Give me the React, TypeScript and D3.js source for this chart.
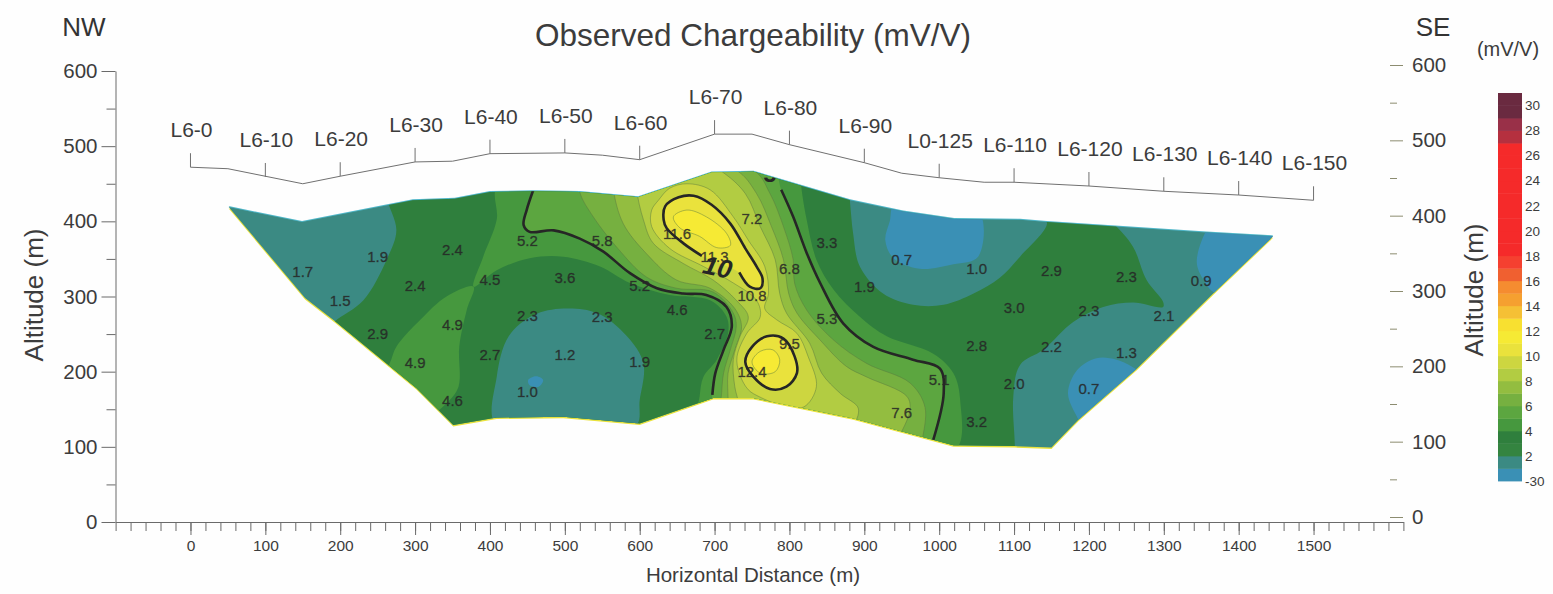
import React, { useEffect, useRef } from 'react'
import * as d3 from 'd3'

type Pt = [number, number]

// all shapes below are [distance m, altitude m]
const distMajor = [0, 100, 200, 300, 400, 500, 600, 700, 800, 900, 1000, 1100, 1200, 1300, 1400, 1500]
const altMajor = [0, 100, 200, 300, 400, 500, 600]
const altMinor = [50, 150, 250, 350, 450, 550]
const legendTicks = [-30, 2, 4, 6, 8, 10, 12, 14, 16, 18, 20, 22, 24, 26, 28, 30]

const stationNames = ['L6-0', 'L6-10', 'L6-20', 'L6-30', 'L6-40', 'L6-50', 'L6-60', 'L6-70', 'L6-80', 'L6-90', 'L0-125', 'L6-110', 'L6-120', 'L6-130', 'L6-140', 'L6-150']
const stationDist = distMajor
const stationAlt = [472, 459, 460, 479, 490, 491, 482, 516, 502, 478, 458, 452, 447, 440, 435, 428]

const topography: Pt[] = [[0, 472], [50, 470], [150, 450], [200, 460], [300, 479], [350, 480], [400, 490], [500, 491], [550, 488], [600, 482], [700, 516], [750, 516], [800, 502], [900, 478], [950, 464], [1000, 458], [1060, 452], [1100, 452], [1200, 447], [1300, 440], [1400, 435], [1500, 428]]

const sectionOutline: Pt[] = [[51, 419], [149, 399], [297, 428], [353, 430], [400, 439], [457, 440], [520, 439], [598, 432], [696, 465], [752, 466], [881, 428], [952, 413], [1020, 403], [1108, 402], [1144, 399], [1357, 385], [1446, 380], [1366, 304], [1264, 204], [1186, 136], [1150, 99], [1101, 101], [1019, 102], [885, 138], [752, 165], [698, 165], [600, 131], [498, 140], [409, 139], [351, 129], [302, 178], [193, 267], [153, 298]]

// bands of the colour bar, bottom to top
const bandLower = [-30, 1, 2, 3, 4, 5, 6, 7, 8, 9, 10, 11, 12, 13, 14, 15, 16, 17, 18, 19, 20, 21, 22, 23, 24, 25, 26, 27, 28, 29, 30]
const bandColors = ['#3a90b5', '#3b8a83', '#348440', '#2f7f3d', '#46983e', '#5ca640', '#76b040', '#93bd40', '#b2cc42', '#cdd640', '#eae23c', '#f6ea34', '#f8e030', '#f5c035', '#f5a030', '#f58c30', '#f06030', '#f54030', '#f52a2a', '#f52a2a', '#f52a2a', '#f52a2a', '#f52a2a', '#f52a2a', '#f52a2a', '#f52a2a', '#f52a2a', '#b5303f', '#993048', '#6a2a40', '#6a2a40']

// filled contours, painted low to high
const dark3: Pt[] = [[262, 433], [275, 388], [262, 349], [231, 295], [193, 267], [182, 255], [230, 120], [600, 90], [1101, 60], [1101, 102], [1099, 167], [1108, 209], [1139, 229], [1179, 266], [1219, 286], [1259, 292], [1299, 286], [1299, 293], [1277, 322], [1259, 366], [1235, 395], [1224, 406], [1135, 411], [1144, 397], [1108, 353], [1081, 325], [1046, 304], [1006, 289], [965, 289], [925, 304], [894, 340], [885, 384], [881, 424], [876, 470], [600, 500], [262, 470]]
const tealMiddle: Pt[] = [[409, 127], [409, 193], [425, 247], [458, 275], [498, 284], [543, 278], [583, 247], [605, 211], [600, 162], [594, 127]]
const blueTop: Pt[] = [[941, 424], [1052, 415], [1052, 353], [1019, 343], [974, 337], [939, 351], [928, 375], [934, 400]]
const blueSpot: Pt[] = [[451, 189], [462, 194], [471, 189], [465, 180], [453, 182]]
const blueRight: Pt[] = [[1357, 388], [1344, 346], [1353, 322], [1366, 306], [1384, 300], [1464, 393], [1366, 397]]
const blueLower: Pt[] = [[1186, 136], [1172, 171], [1184, 202], [1210, 218], [1237, 216], [1262, 204], [1273, 193], [1193, 122]]
const mid4Main: Pt[] = [[411, 450], [409, 402], [391, 353], [378, 313], [409, 335], [453, 351], [498, 353], [547, 340], [587, 318], [640, 302], [694, 295], [716, 273], [718, 251], [703, 216], [685, 193], [680, 167], [678, 145], [700, 130], [850, 110], [1021, 95], [1028, 162], [1019, 198], [992, 224], [930, 247], [894, 273], [859, 309], [836, 349], [823, 402], [816, 444], [814, 470], [600, 500]]
const mid4Left: Pt[] = [[378, 313], [342, 300], [307, 269], [275, 233], [266, 211], [253, 193], [300, 150], [324, 145], [342, 158], [358, 180], [359, 233], [369, 282]]

const thick5Left: Pt[] = [[458, 442], [449, 415], [445, 395], [453, 386], [485, 388], [520, 377], [551, 360], [587, 331], [623, 311], [658, 304], [689, 302], [716, 286], [723, 260], [712, 229], [701, 198], [697, 169]]
const thick5Right: Pt[] = [[789, 442], [805, 406], [823, 358], [841, 318], [872, 264], [912, 233], [965, 216], [1001, 204], [1006, 171], [992, 109]]
const level5Top: Pt[] = [[458, 470], [620, 520], [775, 480]]
const level5Bottom: Pt[] = [[992, 90], [850, 100], [697, 140]]

const level6: Pt[] = [[520, 439], [538, 406], [569, 366], [609, 326], [649, 311], [698, 306], [725, 278], [729, 260], [721, 229], [712, 198], [709, 167], [707, 149], [974, 91], [977, 107], [981, 153], [961, 185], [903, 211], [859, 242], [823, 282], [807, 317], [805, 349], [792, 393], [774, 437], [752, 468], [600, 500], [520, 470]]
const level7: Pt[] = [[565, 442], [578, 397], [609, 357], [649, 322], [694, 311], [727, 284], [736, 260], [727, 229], [718, 198], [718, 165], [718, 145], [939, 96], [948, 116], [961, 149], [957, 167], [903, 193], [876, 207], [841, 242], [810, 278], [799, 304], [792, 349], [776, 393], [756, 437], [729, 468], [640, 490], [565, 470]]
const level8: Pt[] = [[596, 442], [605, 402], [618, 371], [658, 344], [698, 322], [729, 295], [745, 273], [734, 247], [725, 216], [727, 180], [732, 158], [732, 140], [881, 127], [892, 151], [868, 171], [843, 198], [827, 238], [796, 278], [787, 304], [781, 349], [761, 393], [741, 437], [707, 468], [640, 500], [596, 470]]
const level9: Pt[] = [[625, 428], [640, 444], [663, 450], [694, 442], [725, 406], [745, 375], [767, 340], [772, 304], [767, 284], [783, 269], [810, 251], [825, 220], [836, 180], [819, 153], [787, 156], [761, 166], [745, 176], [733, 198], [730, 220], [743, 251], [761, 273], [756, 295], [725, 318], [685, 340], [640, 364], [616, 393], [616, 415]]
const thick10Upper: Pt[] = [[683, 354], [658, 371], [636, 391], [632, 402], [634, 420], [652, 432], [672, 434], [696, 422], [721, 397], [741, 364], [756, 340], [764, 324], [761, 311], [747, 313], [733, 332]]
const thick10Lower: Pt[] = [[741, 213], [750, 233], [770, 247], [792, 244], [807, 220], [810, 198], [796, 180], [774, 177], [752, 193]]
const level11Upper: Pt[] = [[645, 406], [663, 415], [689, 406], [716, 384], [721, 368], [703, 365], [680, 380], [654, 391]]
const level11Lower: Pt[] = [[750, 213], [761, 227], [778, 229], [787, 216], [781, 200], [761, 198]]

// measured value labels
const valueText = ['1.7', '1.9', '2.4', '1.5', '2.4', '2.9', '4.9', '4.5', '5.2', '5.8', '3.6', '5.2', '2.3', '2.3', '4.6', '4.9', '2.7', '1.2', '1.9', '4.6', '1.0', '11.6', '7.2', '11.3', '6.8', '3.3', '10.8', '1.9', '0.7', '1.0', '5.3', '2.7', '9.5', '12.4', '5.1', '7.6', '2.8', '3.2', '3.0', '2.9', '2.3', '0.9', '2.3', '2.1', '2.2', '1.3', '2.0', '0.7']
const valueDist = [150, 250, 350, 200, 300, 250, 350, 400, 450, 550, 500, 600, 450, 550, 650, 300, 400, 500, 600, 350, 450, 650, 750, 700, 800, 850, 750, 900, 950, 1050, 850, 700, 800, 750, 1000, 950, 1050, 1050, 1100, 1150, 1250, 1350, 1200, 1300, 1150, 1250, 1100, 1200]
const valueAlt = [333, 353, 363, 294, 314, 250, 262, 323, 375, 374, 325, 315, 274, 273, 282, 212, 223, 223, 214, 161, 173, 384, 403, 353, 337, 372, 301, 313, 349, 337, 271, 250, 237, 200, 189, 146, 235, 133, 285, 334, 327, 321, 281, 274, 233, 226, 184, 178]

const W = 1553
const H = 594
const FONT = '"Liberation Sans", Arial, sans-serif'

const x = d3.scaleLinear().domain([-100, 1620]).range([115.6, 1403.4])
const y = d3.scaleLinear().domain([0, 600]).range([522, 71])
// the scan is a little skewed, right axis sits higher
const yRight = d3.scaleLinear().domain([0, 600]).range([517, 65])
const fillFor = d3.scaleThreshold<number, string>().domain(bandLower.slice(1)).range(bandColors)
const legendY = d3.scaleLinear().domain([0, 31]).range([481, 93])
const plain = d3.format('d')

const closed = d3.line<Pt>().x(d => x(d[0])).y(d => y(d[1])).curve(d3.curveCatmullRomClosed.alpha(0.5))
const open = d3.line<Pt>().x(d => x(d[0])).y(d => y(d[1])).curve(d3.curveCatmullRom.alpha(0.5))
const straight = d3.line<Pt>().x(d => x(d[0])).y(d => y(d[1]))

const level5: Pt[] = [...level5Top, ...thick5Right, ...level5Bottom, ...thick5Left.slice().reverse()]

const regions: { value: number; pts: Pt[]; edge?: boolean }[] = [
  { value: 3.5, pts: dark3 },
  { value: 1.5, pts: tealMiddle },
  { value: 0.5, pts: blueTop },
  { value: 0.5, pts: blueSpot },
  { value: 0.5, pts: blueRight },
  { value: 0.5, pts: blueLower },
  { value: 4.5, pts: mid4Main },
  { value: 4.5, pts: mid4Left },
  { value: 5.5, pts: level5 },
  { value: 6.5, pts: level6, edge: true },
  { value: 7.5, pts: level7, edge: true },
  { value: 8.5, pts: level8, edge: true },
  { value: 9.5, pts: level9, edge: true },
  { value: 10.5, pts: thick10Upper },
  { value: 10.5, pts: thick10Lower },
  { value: 11.5, pts: level11Upper, edge: true },
  { value: 11.5, pts: level11Lower, edge: true },
]

const App = () => {
  const axesRef = useRef<SVGGElement>(null)

  useEffect(() => {
    const g = d3.select(axesRef.current)
    g.selectAll('*').remove()

    g.append('g').attr('transform', 'translate(115.5,0)')
      .call(d3.axisLeft(y).tickValues(altMajor).tickSize(14).tickPadding(4).tickSizeOuter(0).tickFormat(plain))
    g.append('g').attr('transform', 'translate(115.5,0)')
      .call(d3.axisLeft(y).tickValues(altMinor).tickSize(9).tickFormat(() => '').tickSizeOuter(0))
      .call(s => s.select('.domain').remove())

    g.append('g').attr('transform', 'translate(0,522)')
      .call(d3.axisBottom(x).tickValues(d3.range(-100, 1621, 20)).tickSize(9).tickFormat(() => '').tickSizeOuter(0))
    g.append('g').attr('transform', 'translate(0,522)')
      .call(d3.axisBottom(x).tickValues(distMajor).tickSize(13).tickPadding(5).tickSizeOuter(0).tickFormat(plain))
      .call(s => s.select('.domain').remove())
      .call(s => s.selectAll('text').attr('font-size', 15.5))

    g.append('g').attr('transform', 'translate(1390,0)')
      .call(d3.axisRight(yRight).tickValues(altMajor).tickSize(13).tickPadding(9).tickFormat(plain))
      .call(s => s.select('.domain').remove())
      .call(s => s.selectAll('line').attr('stroke', '#8c8c70'))
    g.append('g').attr('transform', 'translate(1390,0)')
      .call(d3.axisRight(yRight).tickValues(altMinor).tickSize(7).tickFormat(() => ''))
      .call(s => s.select('.domain').remove())
      .call(s => s.selectAll('line').attr('stroke', '#8c8c70'))

    g.selectAll('text').attr('font-family', FONT).attr('fill', '#3c3c3c')
    g.selectAll('g > g > text').filter(function () { return !d3.select(this).attr('font-size') }).attr('font-size', 20.5)
    g.selectAll('.domain').attr('stroke', '#6a6a6a')
    g.selectAll('.tick line').filter(function () { return !d3.select(this).attr('stroke') || d3.select(this).attr('stroke') === 'currentColor' }).attr('stroke', '#6a6a6a')
  }, [])

  return (
    <svg width={W} height={H} style={{ position: 'absolute', left: 0, top: 0, display: 'block', background: '#fefefe' }} fontFamily={FONT}>
      <defs>
        <clipPath id="section">
          <path d={straight(sectionOutline) + 'Z'} />
        </clipPath>
      </defs>

      <g ref={axesRef} />

      {/* print misregistration along the section edges */}
      <path d={straight(sectionOutline) + 'Z'} fill="#e9e23c" transform="translate(0,1.5)" />
      <path d={straight(sectionOutline) + 'Z'} fill="#4fb6c8" transform="translate(0,-1)" />
      <path d={straight(sectionOutline) + 'Z'} fill={fillFor(1.5)} />

      <g clipPath="url(#section)">
        {regions.map((r, i) => (
          <path key={i} d={closed(r.pts) ?? ''} fill={fillFor(r.value)}
            stroke={r.edge ? '#5a7a40' : 'none'} strokeOpacity={0.6} strokeWidth={0.8} />
        ))}
        {[thick5Left, thick5Right, thick10Upper].map((p, i) => (
          <path key={i} d={open(p) ?? ''} fill="none" stroke="#262626" strokeWidth={2.6} />
        ))}
        <path d={closed(thick10Lower) ?? ''} fill="none" stroke="#262626" strokeWidth={2.6} />
        <text x={x(774)} y={y(464)} dy="0.35em" textAnchor="middle" fontSize={24} fontWeight="bold" fill="#262626">5</text>
      </g>

      <text transform={`translate(${x(704)},${y(339)}) rotate(12)`} dy="0.35em" textAnchor="middle" fontSize={26} fontStyle="italic" fontWeight="bold" fill="#262626">10</text>

      {valueText.map((t, i) => (
        <text key={i} x={x(valueDist[i])} y={y(valueAlt[i])} dy="0.36em" textAnchor="middle" fontSize={15} fill="#262626" fillOpacity={0.85} stroke="#262626" strokeWidth={0.45} strokeOpacity={0.6}>{t}</text>
      ))}

      {/* topography with the stations */}
      <path d={straight(topography) ?? ''} fill="none" stroke="#707070" strokeWidth={1} />
      {stationNames.map((name, i) => (
        <g key={name}>
          <line x1={x(stationDist[i])} x2={x(stationDist[i])} y1={y(stationAlt[i])} y2={y(stationAlt[i]) - 14} stroke="#707070" />
          <text x={x(stationDist[i]) + 1} y={y(stationAlt[i]) - 30} textAnchor="middle" fontSize={21} fill="#3c3c3c">{name}</text>
        </g>
      ))}

      <text x={753} y={46} textAnchor="middle" fontSize={31.5} fill="#3c3c3c">Observed Chargeability (mV/V)</text>
      <text x={84} y={36} textAnchor="middle" fontSize={26} fill="#333">NW</text>
      <text x={1433} y={36} textAnchor="middle" fontSize={26} fill="#333">SE</text>
      <text x={753} y={582} textAnchor="middle" fontSize={20.5} fill="#3c3c3c">Horizontal Distance (m)</text>
      <text transform="translate(43,295) rotate(-90)" textAnchor="middle" fontSize={26} fill="#3c3c3c">Altitude (m)</text>
      <text transform="translate(1483,290) rotate(-90)" textAnchor="middle" fontSize={26} fill="#3c3c3c">Altitude (m)</text>

      {/* colour bar */}
      <text x={1508} y={56} textAnchor="middle" fontSize={20} fill="#3c3c3c">(mV/V)</text>
      {bandColors.map((c, i) => (
        <rect key={i} x={1498} width={24} y={legendY(i + 1)} height={legendY(i) - legendY(i + 1) + 0.4} fill={c} />
      ))}
      {legendTicks.map(t => (
        <text key={t} x={1525} y={t < 0 ? legendY(0) : legendY(t)} dy="0.36em" fontSize={13.5} fill="#3c3c3c">{t}</text>
      ))}
    </svg>
  )
}

export default App
